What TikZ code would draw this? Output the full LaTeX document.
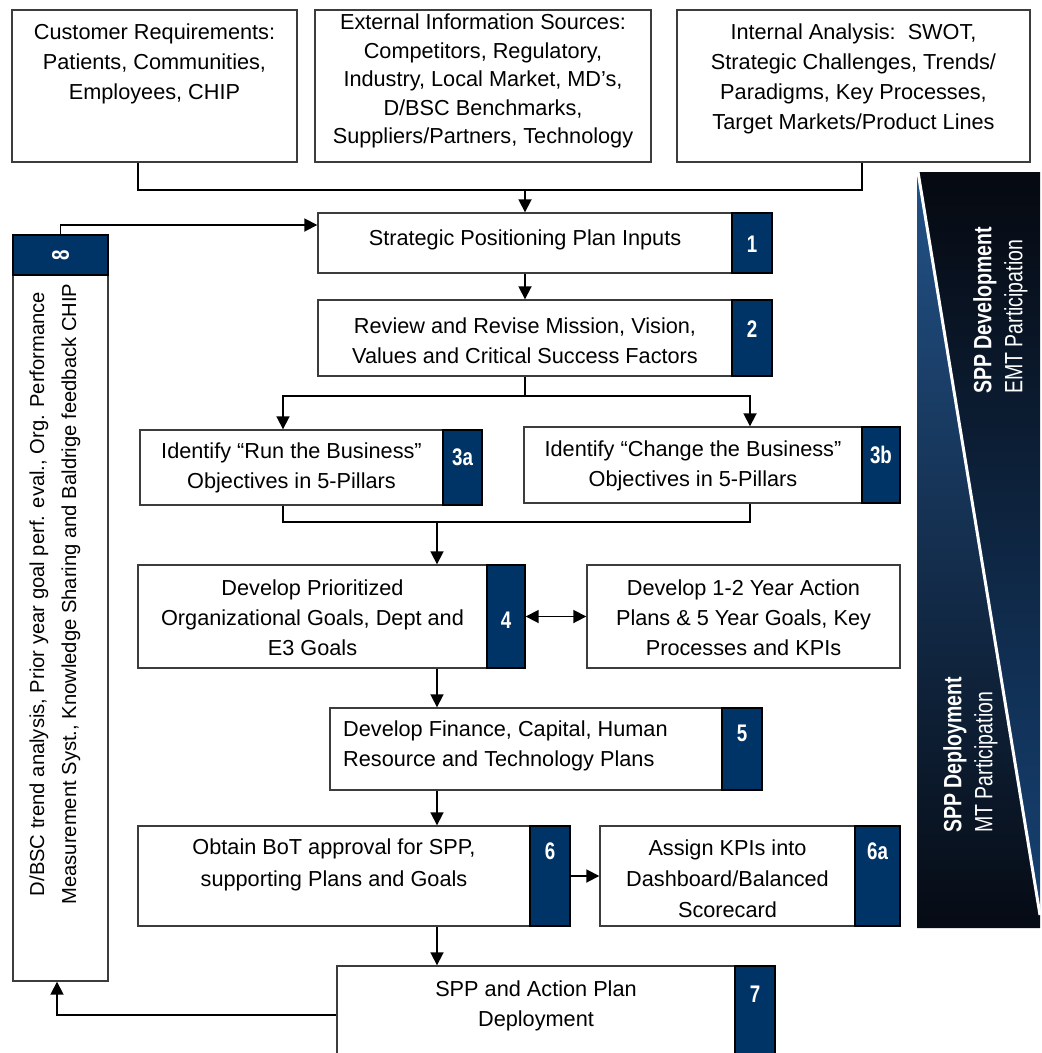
\documentclass[tikz,border=0pt]{standalone}
\usepackage{fontspec}
\setmainfont{Liberation Sans}
\newfontfamily\condfont[FakeStretch=0.78]{Liberation Sans}
\usetikzlibrary{arrows.meta,calc}
\definecolor{navy}{RGB}{0,51,102}
\definecolor{bordergray}{RGB}{60,60,60}
\definecolor{bandA}{RGB}{6,9,16}
\definecolor{bandB}{RGB}{22,66,116}
\definecolor{bandC}{RGB}{34,82,136}
\definecolor{bandD}{RGB}{6,11,20}
\begin{document}
\begin{tikzpicture}[x=1pt,y=-1pt,
  box/.style={draw=bordergray, line width=1.4pt, fill=white, inner sep=0pt},
  badge/.style={draw=black, line width=1.4pt, fill=navy, inner sep=0pt},
  txt/.style={font=\fontsize{21.7}{30}\selectfont, align=center, inner sep=0pt},
  num/.style={font=\condfont\bfseries\fontsize{24}{26}\selectfont, text=white, inner sep=0pt},
  bandtxt/.style={text=white, inner sep=0pt, rotate=90, anchor=west},
  line/.style={draw=black, line width=1.8pt},
  arrow/.style={line, -{Triangle[length=13pt,width=13pt]}},
  darrow/.style={line, {Triangle[length=13pt,width=13pt]}-{Triangle[length=13pt,width=13pt]}}
]
\useasboundingbox (0,0) rectangle (1042,1053);
\clip (0,0) rectangle (1042,1053);
\fill[white] (0,0) rectangle (1042,1053);

% ---- band on the right ----
\shade[top color=bandA, bottom color=bandB] (918,172) -- (1040,172) -- (1040,915) -- cycle;
\shade[top color=bandC, bottom color=bandD] (917,172) -- (1040,915) -- (1040,928) -- (917,928) -- cycle;
\draw[white, line width=3pt] (918,172) -- (1040,915);
\node[bandtxt, font=\condfont\bfseries\fontsize{25}{27}\selectfont] (sdev) at (985,394) {SPP Development};
\node[bandtxt, font=\condfont\fontsize{25}{27}\selectfont] (semt) at (1016,394) {EMT Participation};
\node[bandtxt, font=\condfont\bfseries\fontsize{25}{27}\selectfont] (sdep) at (955,833) {SPP Deployment};
\node[bandtxt, font=\condfont\fontsize{25}{27}\selectfont] (smt) at (986,833) {MT Participation};

% ---- top boxes ----
\node[box, minimum width=285pt, minimum height=152pt] (topA) at (154.5,86) {};
\node[box, minimum width=336pt, minimum height=152pt] (topB) at (483,86) {};
\node[box, minimum width=353pt, minimum height=152pt] (topC) at (853.5,86) {};
\node[txt] (tA) at (154.5,64) {Customer Requirements:\\Patients, Communities,\\Employees, CHIP};
\node[txt, font=\fontsize{21.7}{28.5}\selectfont] (tB) at (483,81) {External Information Sources:\\Competitors, Regulatory,\\Industry, Local Market, MD's,\\D/BSC Benchmarks,\\Suppliers/Partners, Technology};
\node[txt] (tC) at (853.5,79) {Internal Analysis:\ \ SWOT,\\Strategic Challenges, Trends/\\Paradigms, Key Processes,\\Target Markets/Product Lines};

% ---- process boxes ----
\node[box, minimum width=414pt, minimum height=60pt] (b1) at (525,243) {};
\node[badge, minimum width=40pt, minimum height=60pt] (bd1) at (752,243) {};
\node[txt] (t1) at (525,240) {Strategic Positioning Plan Inputs};
\node[num] (n1) at (752,244) {1};

\node[box, minimum width=414pt, minimum height=76pt] (b2) at (525,338) {};
\node[badge, minimum width=40pt, minimum height=76pt] (bd2) at (752,338) {};
\node[txt] (t2) at (525,341) {Review and Revise Mission, Vision,\\Values and Critical Success Factors};
\node[num] (n2) at (752,329) {2};

\node[box, minimum width=303pt, minimum height=75pt] (b3a) at (291.5,467.5) {};
\node[badge, minimum width=39pt, minimum height=75pt] (bd3a) at (462.5,467.5) {};
\node[txt] (t3a) at (291.5,468) {Identify ``Run the Business''\\Objectives in 5-Pillars};
\node[num] (n3a) at (462.5,457) {3a};

\node[box, minimum width=338pt, minimum height=76pt] (b3b) at (693,465) {};
\node[badge, minimum width=38pt, minimum height=76pt] (bd3b) at (881,465) {};
\node[txt] (t3b) at (693,466) {Identify ``Change the Business''\\Objectives in 5-Pillars};
\node[num] (n3b) at (881,455) {3b};

\node[box, minimum width=349pt, minimum height=103pt] (b4) at (312.5,616.5) {};
\node[badge, minimum width=38pt, minimum height=103pt] (bd4) at (506,616.5) {};
\node[txt] (t4) at (312.5,618) {Develop Prioritized\\Organizational Goals, Dept and\\E3 Goals};
\node[num] (n4) at (506,620) {4};

\node[box, minimum width=313pt, minimum height=103pt] (b4b) at (743.5,616.5) {};
\node[txt] (t4b) at (743.5,618) {Develop 1-2 Year Action\\Plans \& 5 Year Goals, Key\\Processes and KPIs};

\node[box, minimum width=392pt, minimum height=82pt] (b5) at (526,749) {};
\node[badge, minimum width=40pt, minimum height=82pt] (bd5) at (742,749) {};
\node[txt, align=left, anchor=west] (t5) at (343,746) {Develop Finance, Capital, Human\\Resource and Technology Plans};
\node[num] (n5) at (742,733) {5};

\node[box, minimum width=392pt, minimum height=100pt] (b6) at (334,876) {};
\node[badge, minimum width=40pt, minimum height=100pt] (bd6) at (550,876) {};
\node[txt, font=\fontsize{21.7}{32}\selectfont] (t6) at (334,865) {Obtain BoT approval for SPP,\\supporting Plans and Goals};
\node[num] (n6) at (550,851) {6};

\node[box, minimum width=255pt, minimum height=100pt] (b6a) at (727.5,876) {};
\node[badge, minimum width=45pt, minimum height=100pt] (bd6a) at (877.5,876) {};
\node[txt, font=\fontsize{21.7}{31}\selectfont] (t6a) at (727.5,879) {Assign KPIs into\\Dashboard/Balanced\\Scorecard};
\node[num] (n6a) at (877.5,851) {6a};

\node[box, minimum width=398pt, minimum height=104pt] (b7) at (536,1018) {};
\node[badge, minimum width=40pt, minimum height=104pt] (bd7) at (755,1018) {};
\node[txt] (t7) at (536,1006) {SPP and Action Plan\\Deployment};
\node[num] (n7) at (755,994) {7};

\node[box, minimum width=95pt, minimum height=706pt] (b8) at (60.5,628) {};
\node[badge, minimum width=95pt, minimum height=40pt] (bd8) at (60.5,255) {};
\node[txt, font=\fontsize{20.2}{32}\selectfont, rotate=90] (t8) at (55,594) {D/BSC trend analysis, Prior year goal perf. eval., Org. Performance\\Measurement Syst., Knowledge Sharing and Baldrige feedback CHIP};
\node[num, rotate=90] (n8) at (60.5,255) {8};

% ---- connectors ----
\coordinate (jA) at (138,190);
\coordinate (jC) at (862,190);
\coordinate (jtop) at (525,190);
\draw[line] (jA |- topA.south) -- (jA) -- (jC) -- (jC |- topC.south);
\draw[arrow] (jtop) -- (b1.north);
\draw[arrow] (b1.south) -- (b2.north);

\coordinate (j2) at (525,396);
\coordinate (j3l) at (283,396);
\coordinate (j3r) at (750,396);
\draw[line] (b2.south) -- (j2);
\draw[arrow] (j2) -| (j3l |- b3a.north);
\draw[arrow] (j2) -| (j3r |- b3b.north);

\coordinate (j4) at (437,522);
\coordinate (j4l) at (283,522);
\coordinate (j4r) at (750,522);
\draw[line] (j4l |- b3a.south) -- (j4l) -- (j4r) -- (j4r |- b3b.south);
\draw[arrow] (j4) -- (j4 |- b4.north);
\draw[arrow] (j4 |- b4.south) -- (j4 |- b5.north);
\draw[arrow] (j4 |- b5.south) -- (j4 |- b6.north);
\draw[arrow] (j4 |- b6.south) -- (j4 |- b7.north);
\draw[darrow] (bd4.east) -- (b4b.west);
\draw[arrow] (bd6.east) -- (b6a.west);

\coordinate (j7) at (57,1015);
\draw[arrow] (b7.west |- j7) -- (j7) -- (j7 |- b8.south);
\coordinate (j8) at (60.5,225);
\draw[arrow] (bd8.north) -- (j8) -- (j8 -| b1.west);
\end{tikzpicture}
\end{document}
